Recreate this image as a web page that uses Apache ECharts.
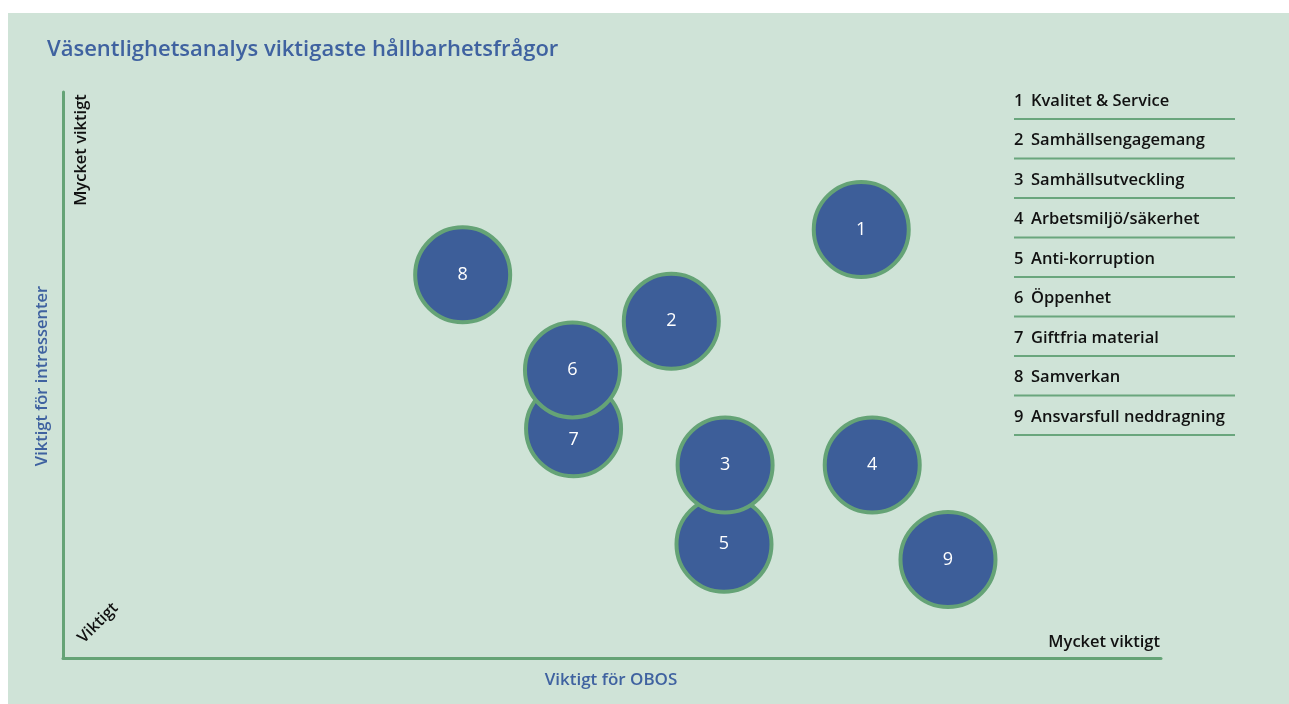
<!DOCTYPE html>
<html>
<head>
<meta charset="utf-8">
<script src="https://cdn.jsdelivr.net/npm/echarts@6/dist/echarts.min.js"></script>
<style>
  html, body { margin: 0; padding: 0; background: #fff; }
  #chart { width: 1289px; height: 704px; }
</style>
</head>
<body>
<div id="chart"></div>
<script>
// frågor, numrerade 1-9
const issueNames = ['Kvalitet & Service', 'Samhällsengagemang', 'Samhällsutveckling', 'Arbetsmiljö/säkerhet',
    'Anti-korruption', 'Öppenhet', 'Giftfria material', 'Samverkan', 'Ansvarsfull neddragning']
// x = viktigt för OBOS, y = viktigt för intressenter (0-100)
const obosValues = [72.7, 55.4, 60.3, 73.7, 60.2, 46.4, 46.5, 36.4, 80.6]
const stakeholderValues = [75.7, 59.5, 34.1, 34.1, 20.1, 50.9, 40.5, 67.7, 17.4]
const lowLabel = 'Viktigt'
const highLabel = 'Mycket viktigt'

const blue = '#3d5e99'
const green = '#65a376'
const textFont = '"Open Sans", "Noto Sans", sans-serif'

// reverse order so 6 is drawn over 7 and 3 over 5
let points = []
for (let i = issueNames.length - 1; i >= 0; i--) {
    points.push({
        value: [obosValues[i], stakeholderValues[i]],
        name: String(i + 1),
        label: i === 6 ? {offset: [0, 11]} : undefined
    })
}

let graphics = [
    {type: 'rect', z: -10, shape: {x: 8, y: 13, width: 1281, height: 691}, style: {fill: '#cfe3d7'}},
    {type: 'text', style: {text: 'Väsentlighetsanalys viktigaste hållbarhetsfrågor', x: 47, y: 50,
        fill: '#3f62a0', font: '600 22px ' + textFont, verticalAlign: 'middle'}},
    {type: 'text', x: 81, y: 150, rotation: Math.PI / 2, style: {text: highLabel, fill: '#111',
        font: '600 16.5px ' + textFont, align: 'center', verticalAlign: 'middle'}},
    {type: 'text', x: 98, y: 623, rotation: Math.PI / 4, style: {text: lowLabel, fill: '#111',
        font: '600 16px ' + textFont, align: 'center', verticalAlign: 'middle'}},
    {type: 'text', style: {text: highLabel, x: 1160, y: 642, fill: '#111',
        font: '600 16.5px ' + textFont, align: 'right', verticalAlign: 'middle'}},
    {type: 'text', x: 42, y: 376, rotation: Math.PI / 2, style: {text: 'Viktigt för intressenter', fill: '#3f62a0',
        font: '600 16.5px ' + textFont, align: 'center', verticalAlign: 'middle'}},
    {type: 'text', style: {text: 'Viktigt för OBOS', x: 611, y: 680, fill: '#3f62a0',
        font: '600 17px ' + textFont, align: 'center', verticalAlign: 'middle'}}
]

// förklaringslista till höger
issueNames.forEach(function (name, i) {
    let y = 101 + i * 39.5
    graphics.push({type: 'text', style: {text: String(i + 1), x: 1014, y: y, fill: '#111',
        font: '600 16.5px ' + textFont, verticalAlign: 'middle'}})
    graphics.push({type: 'text', style: {text: name, x: 1031, y: y, fill: '#111',
        font: '600 16.5px ' + textFont, verticalAlign: 'middle'}})
    graphics.push({type: 'line', shape: {x1: 1014, y1: y + 18, x2: 1235, y2: y + 18},
        style: {stroke: '#6aa67d', lineWidth: 2}})
})

let option = {
    backgroundColor: '#fff',
    animation: false,
    grid: {left: 63, right: 128, top: 92, bottom: 46},
    xAxis: {
        type: 'value', min: 0, max: 100,
        axisLine: {show: true, lineStyle: {color: green, width: 3}},
        axisTick: {show: false}, axisLabel: {show: false}, splitLine: {show: false}
    },
    yAxis: {
        type: 'value', min: 0, max: 100,
        axisLine: {show: true, lineStyle: {color: green, width: 3}},
        axisTick: {show: false}, axisLabel: {show: false}, splitLine: {show: false}
    },
    graphic: graphics,
    series: [{
        type: 'scatter',
        symbolSize: 95,
        itemStyle: {color: blue, borderColor: green, borderWidth: 4, opacity: 1},
        label: {show: true, position: 'inside', formatter: '{b}', color: '#fff', fontSize: 18,
            fontFamily: textFont},
        emphasis: {disabled: true},
        data: points
    }]
}

let mychart = echarts.init(document.getElementById('chart'))
mychart.setOption(option)
</script>
</body>
</html>
